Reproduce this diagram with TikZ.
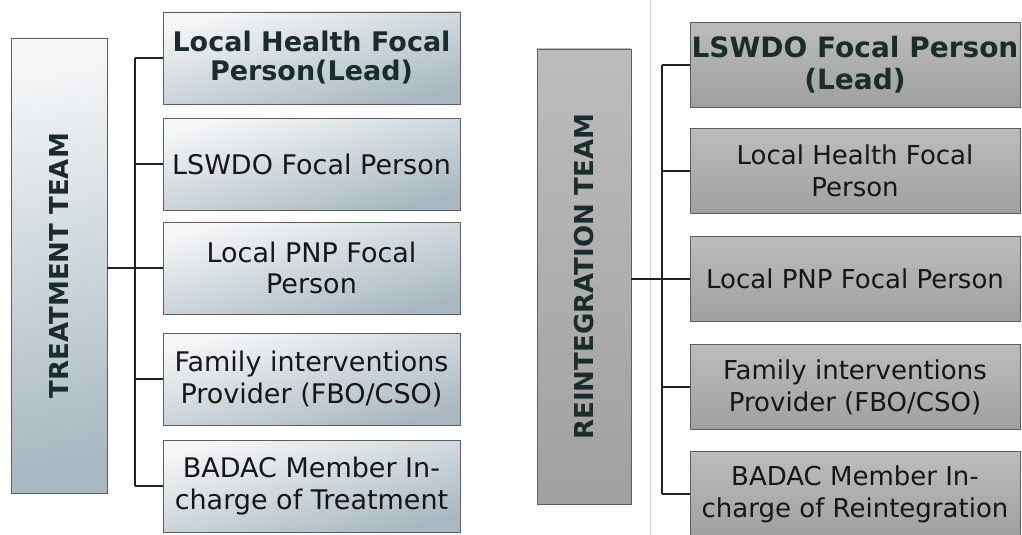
\documentclass[tikz,border=0pt]{standalone}
\usepackage{fontspec}
\setmainfont{DejaVu Sans}
\definecolor{lTop}{HTML}{F4F6F7}
\definecolor{lBot}{HTML}{A9B7C0}
\definecolor{rTop}{HTML}{BCBCBC}
\definecolor{rBot}{HTML}{A0A0A0}
\definecolor{txt}{HTML}{161616}
\definecolor{btxt}{HTML}{1B2D2A}
\definecolor{edge}{HTML}{5E5E5E}
\definecolor{wire}{HTML}{222222}
\definecolor{divider}{HTML}{D2D2D2}
\begin{document}
\begin{tikzpicture}[x=1pt,y=-1pt,
  lbox/.style={draw=edge, line width=0.7pt, top color=lTop, bottom color=lBot, shading angle=15,
    minimum width=297pt, minimum height=92pt, inner sep=0pt, align=center,
    font=\fontsize{27}{31.5}\selectfont, text=txt},
  rbox/.style={draw=edge, line width=0.7pt, top color=rTop, bottom color=rBot,
    minimum width=330pt, minimum height=85pt, inner sep=0pt, align=center,
    font=\fontsize{26}{32}\selectfont, text=txt},
  lhead/.style={draw=edge, line width=0.7pt, top color=lTop, bottom color=lBot, shading angle=10,
    minimum width=96pt, minimum height=455pt, inner sep=0pt},
  rhead/.style={draw=edge, line width=0.7pt, top color=rTop, bottom color=rBot,
    minimum width=94pt, minimum height=455pt, inner sep=0pt},
  headtext/.style={rotate=90, font=\bfseries\fontsize{26}{30}\selectfont, text=btxt},
  leadtext/.style={font=\bfseries\fontsize{27}{29}\selectfont, text=btxt},
  rleadtext/.style={font=\bfseries\fontsize{28}{32}\selectfont, text=btxt},
  wirestyle/.style={draw=wire, line width=1.5pt}]
\useasboundingbox (0,0) rectangle (1022,535);
\clip (0,0) rectangle (1022,535);
\fill[white] (0,0) rectangle (1022,535);

% page divider
\coordinate (dtop) at (650,0);
\coordinate (dbot) at (650,535);
\draw[divider, line width=0.8pt] (dtop) -- (dbot);

% ---------- Treatment team ----------
\node[lhead] (tt) at (59,265.5) {};
\node[headtext] (ttl) at (tt.center) {TREATMENT TEAM};

\node[lbox, leadtext] (t1) at (311.5,58) {Local Health Focal\\Person(Lead)};
\node[lbox] (t2) at (311.5,164) {LSWDO Focal Person};
\node[lbox] (t3) at (311.5,268) {Local PNP Focal\\Person};
\node[lbox] (t4) at (311.5,379) {Family interventions\\Provider (FBO/CSO)};
\node[lbox] (t5) at (311.5,486) {BADAC Member In-\\charge of Treatment};

\coordinate (ttop) at (135,58);
\coordinate (tbot) at (135,486);
\draw[wirestyle] (ttop) -- (tbot);
\draw[wirestyle] (tt.east |- t3.west) -- (t3.west);
\foreach \n in {t1,t2,t4,t5} \draw[wirestyle] (ttop |- \n.west) -- (\n.west);

% ---------- Reintegration team ----------
\node[rhead] (rt) at (584,276.5) {};
\node[headtext] (rtl) at (rt.center) {REINTEGRATION TEAM};

\node[rbox, rleadtext] (r1) at (855,65) {LSWDO Focal Person\\(Lead)};
\node[rbox] (r2) at (855,171) {Local Health Focal\\Person};
\node[rbox] (r3) at (855,279) {Local PNP Focal Person};
\node[rbox] (r4) at (855,387) {Family interventions\\Provider (FBO/CSO)};
\node[rbox] (r5) at (855,494) {BADAC Member In-\\charge of Reintegration};

\coordinate (rtop) at (662,65);
\coordinate (rbot) at (662,494);
\draw[wirestyle] (rtop) -- (rbot);
\draw[wirestyle] (rt.east |- r3.west) -- (r3.west);
\foreach \n in {r1,r2,r4,r5} \draw[wirestyle] (rtop |- \n.west) -- (\n.west);
\end{tikzpicture}
\end{document}
